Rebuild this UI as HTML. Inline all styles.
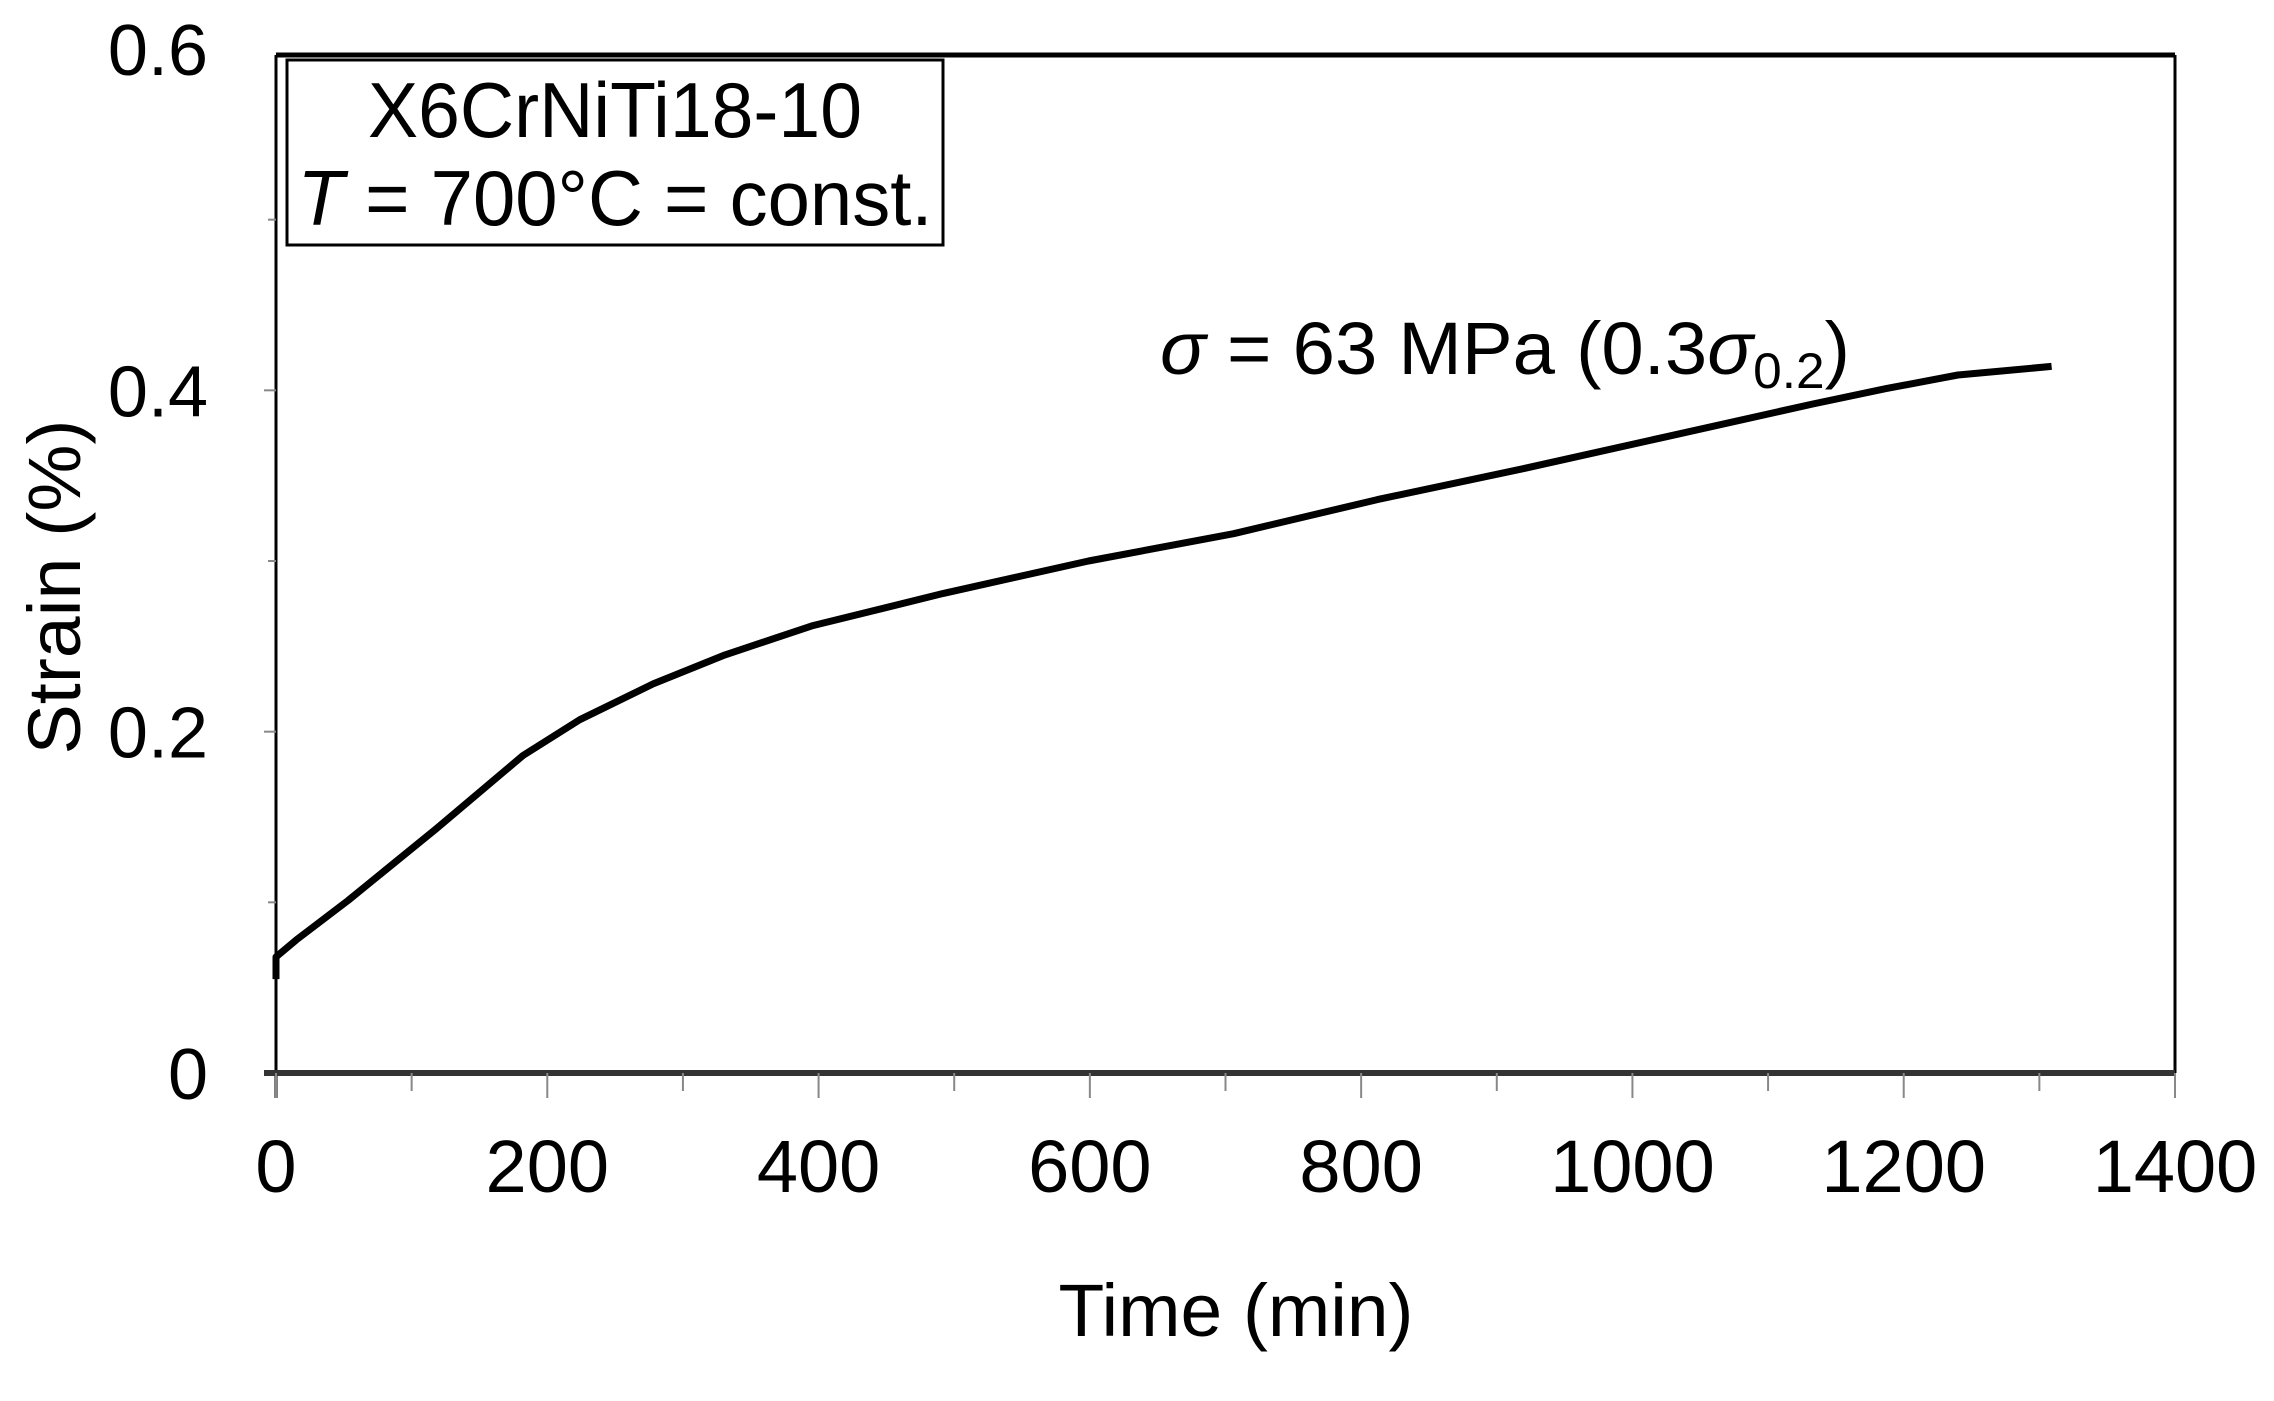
<!DOCTYPE html>
<html><head><meta charset="utf-8"><style>
html,body{margin:0;padding:0;background:#fff;}
svg{display:block;font-family:"Liberation Sans",Arial,sans-serif;}
</style></head><body>
<svg id="chart" width="2274" height="1401" viewBox="0 0 2274 1401">
  <g id="axes"></g>
  <g id="series"></g>
  <g>
    <rect x="287" y="60" width="656" height="185" fill="#fff" stroke="#000" stroke-width="3"/>
    <text x="615" y="137" font-size="78" text-anchor="middle" textLength="494" lengthAdjust="spacingAndGlyphs">X6CrNiTi18-10</text>
    <text x="615" y="225" font-size="78" text-anchor="middle" textLength="635" lengthAdjust="spacingAndGlyphs"><tspan font-style="italic">T</tspan> = 700°C = const.</text>
  </g>
  <text x="1160" y="374" font-size="74" textLength="690" lengthAdjust="spacingAndGlyphs"><tspan font-style="italic">σ</tspan> = 63 MPa (0.3<tspan font-style="italic">σ</tspan><tspan font-size="50" dy="14">0.2</tspan><tspan dy="-14">)</tspan></text>
  <text x="1236" y="1336" font-size="74" text-anchor="middle" textLength="355" lengthAdjust="spacingAndGlyphs">Time (min)</text>
  <text transform="translate(80,587) rotate(-90)" font-size="74" text-anchor="middle" textLength="335" lengthAdjust="spacingAndGlyphs">Strain (%)</text>
</svg>
<script>
const xTicks = [0,200,400,600,800,1000,1200,1400];
const yTicks = [0,0.2,0.4,0.6];
const yTickLabels = ["0","0.2","0.4","0.6"];
const times = [0,0,15,53,118,182,224,278,331,395,492,599,706,812,919,1026,1133,1187,1240,1309];
const strains = [0.055,0.068,0.078,0.101,0.143,0.186,0.207,0.228,0.245,0.262,0.281,0.300,0.316,0.336,0.354,0.373,0.392,0.401,0.409,0.414];

const L=276,R=2175,T=49,B=1073;
const xs=v=>L+(v/1400)*(R-L);
const ys=v=>B-(v/0.6)*(B-T);
const NS="http://www.w3.org/2000/svg";
const axes=document.getElementById('axes');
function mk(tag,attrs,parent){const e=document.createElementNS(NS,tag);for(const k in attrs)e.setAttribute(k,attrs[k]);parent.appendChild(e);return e;}

let e=mk('line',{x1:L,y1:55,x2:R,y2:55,stroke:'#000','stroke-width':5},axes);


e=mk('line',{x1:R,y1:55,x2:R,y2:B,stroke:'#000','stroke-width':3},axes);


e=mk('line',{x1:L,y1:55,x2:L,y2:B+25,stroke:'#000','stroke-width':3},axes);


e=mk('line',{x1:L-12,y1:B,x2:R,y2:B,stroke:'#333','stroke-width':6},axes);



for(let v=0;v<=1400;v+=100){
  const t=mk('line',{x1:xs(v),y1:B,x2:xs(v),y2:B+(v%200===0?25:18),stroke:'#888','stroke-width':2},axes);
  
  
}
xTicks.forEach(v=>{
  const t=mk('text',{x:xs(v),y:1192,'font-size':74,'text-anchor':'middle'},axes);
  t.textContent=String(v);
  
  
});
for(let i=1;i<=5;i++){
  const v=i*0.1;
  const t=mk('line',{x1:L-(i%2===0?12:8),y1:ys(v),x2:L,y2:ys(v),stroke:'#888','stroke-width':2},axes);
  
  
}
yTicks.forEach((v,i)=>{
  const t=mk('text',{x:208,y:ys(v)+26,'font-size':72,'text-anchor':'end'},axes);
  t.textContent=yTickLabels[i];
  
  
});

const pts=times.map((t,i)=>xs(t).toFixed(1)+','+ys(strains[i]).toFixed(1)).join(' ');
const line=mk('polyline',{points:pts,fill:'none',stroke:'#000','stroke-width':7,'stroke-linejoin':'round'},document.getElementById('series'));


</script>
</body></html>
